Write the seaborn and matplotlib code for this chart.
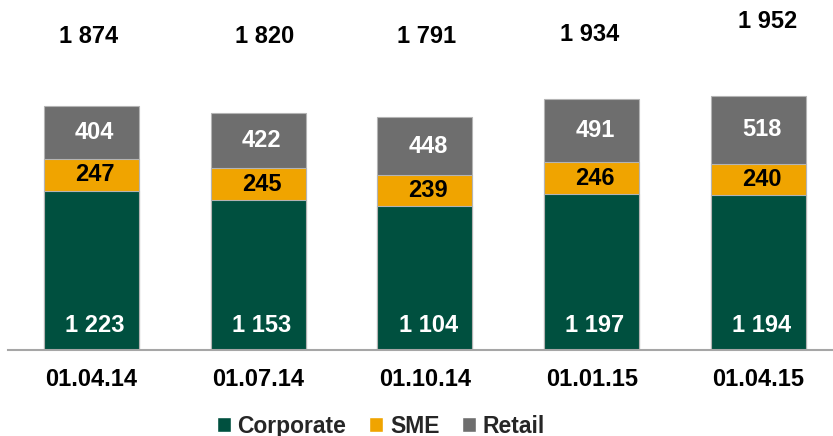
import matplotlib
matplotlib.use("Agg")
import matplotlib.pyplot as plt
import seaborn as sns
import pandas as pd
import numpy as np
from matplotlib.patches import Patch

# Loan portfolio by segment
dates = ["01.04.14", "01.07.14", "01.10.14", "01.01.15", "01.04.15"]
corporate = [1223, 1153, 1104, 1197, 1194]
sme = [247, 245, 239, 246, 240]
retail = [404, 422, 448, 491, 518]
totals = [1874, 1820, 1791, 1934, 1952]

GREEN = "#00503F"
ORANGE = "#F0A400"
GREY = "#6E6E6E"
EDGE = "#B4B4B4"

sns.set_theme(style="white")
plt.rcParams["font.family"] = ["Liberation Sans", "DejaVu Sans"]

df = pd.DataFrame({"date": dates, "corporate": corporate, "sme": sme, "retail": retail})
df["corp_sme"] = df["corporate"] + df["sme"]
df["all"] = df["corp_sme"] + df["retail"]

fig = plt.figure(figsize=(8.33, 4.36), dpi=100)
ax = fig.add_axes([8 / 833, 86 / 436, 825 / 833, 350 / 436])

# Stacked bars drawn as cumulative layers, back to front
for col, color in [("all", GREY), ("corp_sme", ORANGE), ("corporate", GREEN)]:
    sns.barplot(data=df, x="date", y=col, color=color, width=0.57,
                edgecolor=EDGE, linewidth=0.8, saturation=1, ax=ax)

ax.set_xlim(-0.5, 4.447)
ax.set_ylim(0, 2692)

# Segment labels
dx = 0.02
for i in range(len(dates)):
    c, s, r = corporate[i], sme[i], retail[i]
    ax.text(i + dx, 185, f"{c // 1000} {c % 1000:03d}", ha="center", va="center",
            color="white", fontsize=17, fontweight="bold")
    ax.text(i + dx, c + s / 2, f"{s}", ha="center", va="center",
            color="black", fontsize=17, fontweight="bold")
    ax.text(i + dx, c + s + r / 2, f"{r}", ha="center", va="center",
            color="white", fontsize=17, fontweight="bold")

# Totals above the bars
total_dx = [-0.015, 0.04, 0.012, -0.01, 0.052]
total_y = [2410, 2410, 2410, 2423, 2525]
for i, t in enumerate(totals):
    ax.text(i + total_dx[i], total_y[i], f"{t // 1000} {t % 1000:03d}", ha="center",
            va="center", color="black", fontsize=17, fontweight="bold")

for side in ["top", "right", "left"]:
    ax.spines[side].set_visible(False)
ax.spines["bottom"].set_color("#A6A6A6")
ax.spines["bottom"].set_linewidth(1.5)
ax.set_yticks([])
ax.set_xlabel("")
ax.set_ylabel("")
ax.tick_params(axis="x", length=0, pad=13)
for lbl in ax.get_xticklabels():
    lbl.set_fontsize(17)
    lbl.set_fontweight("bold")
    lbl.set_color("black")

handles = [Patch(facecolor=GREEN, label="Corporate"),
           Patch(facecolor=ORANGE, label="SME"),
           Patch(facecolor=GREY, label="Retail")]
fig.legend(handles=handles, loc="center", bbox_to_anchor=(381 / 833, 1 - 426 / 436),
           ncol=3, frameon=False, handlelength=0.6, handleheight=0.6,
           handletextpad=0.3, columnspacing=1.0,
           prop={"size": 16.5, "weight": "bold"})

fig.savefig("out.png", dpi=100)
